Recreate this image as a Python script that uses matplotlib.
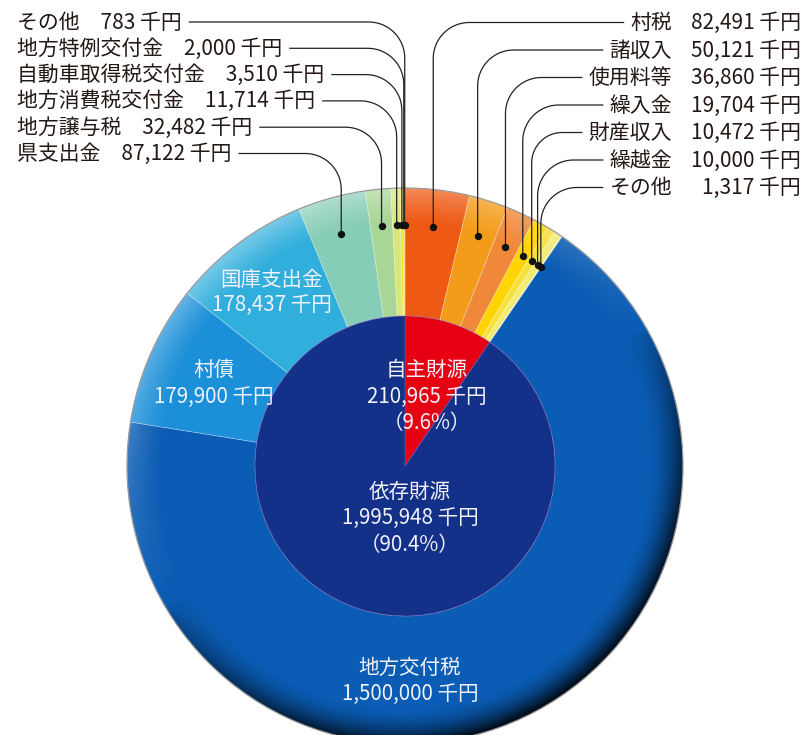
import numpy as np
import matplotlib
matplotlib.use('Agg')
import matplotlib.pyplot as plt
from matplotlib.patches import Circle, PathPatch
from matplotlib.path import Path

plt.rcParams['font.family'] = ['Noto Sans CJK JP', 'DejaVu Sans']

# ---------------- data ----------------
inner_labels = ['自主財源', '依存財源']
inner_values = [210965, 1995948]

own_labels = ['村税', '諸収入', '使用料等', '繰入金', '財産収入', '繰越金', 'その他']
own_values = [82491, 50121, 36860, 19704, 10472, 10000, 1317]

dep_labels = ['地方交付税', '村債', '国庫支出金', '県支出金', '地方譲与税',
              '地方消費税交付金', '自動車取得税交付金', '地方特例交付金', 'その他']
dep_values = [1500000, 179900, 178437, 87122, 32482, 11714, 3510, 2000, 783]

unit = '千円'

# ---------------- style / layout ----------------
inner_colors = ['#E60012', '#14318A']
own_colors = ['#EE5A14', '#F39C1B', '#F0883A', '#FFD400', '#F6E03A', '#F2EC74', '#ECF2A0']
dep_colors = ['#0A5CB4', '#1B8FD8', '#30AEDC', '#86CDB8', '#A8D696', '#D8E67C',
              '#F2E52C', '#F4D020', '#F0C000']

W, H = 808, 735
CX, CY = 405, H - 466
R_OUT, R_IN = 278, 150
FS = 15.0
FS_IN = 14.8
TXT = '#231815'

fig = plt.figure(figsize=(W / 100, H / 100), dpi=100)
ax = fig.add_axes([0, 0, 1, 1])

outer_values = own_values + dep_values
outer_colors = own_colors + dep_colors
outer_w, _ = ax.pie(outer_values, radius=R_OUT, center=(CX, CY), startangle=90,
                    counterclock=False, colors=outer_colors,
                    wedgeprops=dict(width=R_OUT - R_IN, linewidth=0.5,
                                    edgecolor=(1, 1, 1, 0.35)))
inner_w, _ = ax.pie(inner_values, radius=R_IN, center=(CX, CY), startangle=90,
                    counterclock=False, colors=inner_colors,
                    wedgeprops=dict(linewidth=0.6, edgecolor=(0.45, 0.35, 0.7, 0.6)))

ax.set_xlim(0, W)
ax.set_ylim(0, H)
ax.set_aspect('equal')
ax.axis('off')

# ---------- shading overlay (3D look) ----------
n = 500
xs = np.linspace(CX - R_OUT, CX + R_OUT, n)
ys = np.linspace(CY - R_OUT, CY + R_OUT, n)
XX, YY = np.meshgrid(xs, ys)
dx, dy = XX - CX, YY - CY
d = np.hypot(dx, dy) / R_OUT
phi = np.arctan2(dy, dx)
rim = np.clip((d - 0.87) / 0.13, 0, 1)
dark_w = np.clip(np.cos(phi - np.deg2rad(-60)), 0, 1)
a_dark = 0.92 * rim ** 1.8 * dark_w ** 0.6
light_w = np.clip(np.cos(phi - np.deg2rad(120)), 0, 1)
a_light = 0.35 * rim ** 1.3 * light_w
clip_c = Circle((CX, CY), R_OUT, transform=ax.transData)
img_d = np.zeros((n, n, 4)); img_d[..., 3] = a_dark
img_l = np.ones((n, n, 4)); img_l[..., 3] = a_light
for img in (img_d, img_l):
    im = ax.imshow(img, extent=(CX - R_OUT, CX + R_OUT, CY - R_OUT, CY + R_OUT),
                   origin='lower', interpolation='bilinear', zorder=3)
    im.set_clip_path(clip_c)
ax.set_xlim(0, W)
ax.set_ylim(0, H)
ax.add_patch(Circle((CX, CY), R_OUT, fill=False, edgecolor='#9a9a9a', lw=0.9, zorder=4))

# ---------- labels inside ----------
def wtext(x, y_px, s):
    ax.text(x, H - y_px, s, color='#F2F2F8', fontsize=FS_IN, ha='center', va='center', zorder=6)

total = sum(inner_values)
pct = [v / total * 100 for v in inner_values]
wtext(427, 370, inner_labels[0])
wtext(427, 397, f'{inner_values[0]:,} {unit}')
wtext(427, 423, f'（{pct[0]:.1f}%）')
wtext(410, 492, inner_labels[1])
wtext(410, 518, f'{inner_values[1]:,} {unit}')
wtext(410, 545, f'（{pct[1]:.1f}%）')
wtext(410, 668, dep_labels[0])
wtext(410, 694, f'{dep_values[0]:,} {unit}')
wtext(272, 280, dep_labels[2])
wtext(272, 305, f'{dep_values[2]:,} {unit}')
wtext(214, 370, dep_labels[1])
wtext(214, 397, f'{dep_values[1]:,} {unit}')

# ---------- external labels with leader lines ----------
R_DOT = 241
RC = 36

def mid_point(w):
    a = np.deg2rad((w.theta1 + w.theta2) / 2)
    return CX + R_DOT * np.cos(a), CY + R_DOT * np.sin(a)

def leader(xd, yd, yl, xe, side):
    rc = min(RC, abs(xe - xd) * 0.6, (yl - yd) * 0.5)
    pts = [(xd, yd), (xd, yl - rc)]
    if side == 'right':
        t = np.linspace(np.pi, np.pi / 2, 20)
        cxr = xd + rc
    else:
        t = np.linspace(0, np.pi / 2, 20)
        cxr = xd - rc
    pts += list(zip(cxr + rc * np.cos(t), yl - rc + rc * np.sin(t)))
    pts.append((xe, yl))
    ax.add_patch(PathPatch(Path(pts), fill=False, lw=0.9, edgecolor='#222222', zorder=7))
    ax.plot([xd], [yd], 'o', color='#111111', ms=4.3, zorder=8)

fig.canvas.draw()
renderer = fig.canvas.get_renderer()

# right side: own sources
right_rows = [23, 50.5, 78, 105.5, 133, 160.5, 188]
for i, (lab, val) in enumerate(zip(own_labels, own_values)):
    yl = H - right_rows[i]
    t = ax.text(672, yl, lab, fontsize=FS, color=TXT, ha='right', va='center', zorder=6)
    ax.text(801, yl, f'{val:,} {unit}', fontsize=FS, color=TXT, ha='right', va='center', zorder=6)
    bb = t.get_window_extent(renderer).transformed(ax.transData.inverted())
    xd, yd = mid_point(outer_w[i])
    leader(xd, yd, yl + 0.5, bb.x0 - 6, 'right')

# left side: last six dependent sources, listed from the top
left_rows = [22.5, 48.8, 75.1, 101.4, 127.7, 154]
left_idx = [8, 7, 6, 5, 4, 3]
for row, j in zip(left_rows, left_idx):
    yl = H - row
    t = ax.text(17, yl, f'{dep_labels[j]}　{dep_values[j]:,} {unit}', fontsize=FS,
                color=TXT, ha='left', va='center', zorder=6)
    bb = t.get_window_extent(renderer).transformed(ax.transData.inverted())
    xd, yd = mid_point(outer_w[len(own_values) + j])
    leader(xd, yd, yl + 0.5, bb.x1 + 7, 'left')

fig.savefig('out.png', dpi=100)
